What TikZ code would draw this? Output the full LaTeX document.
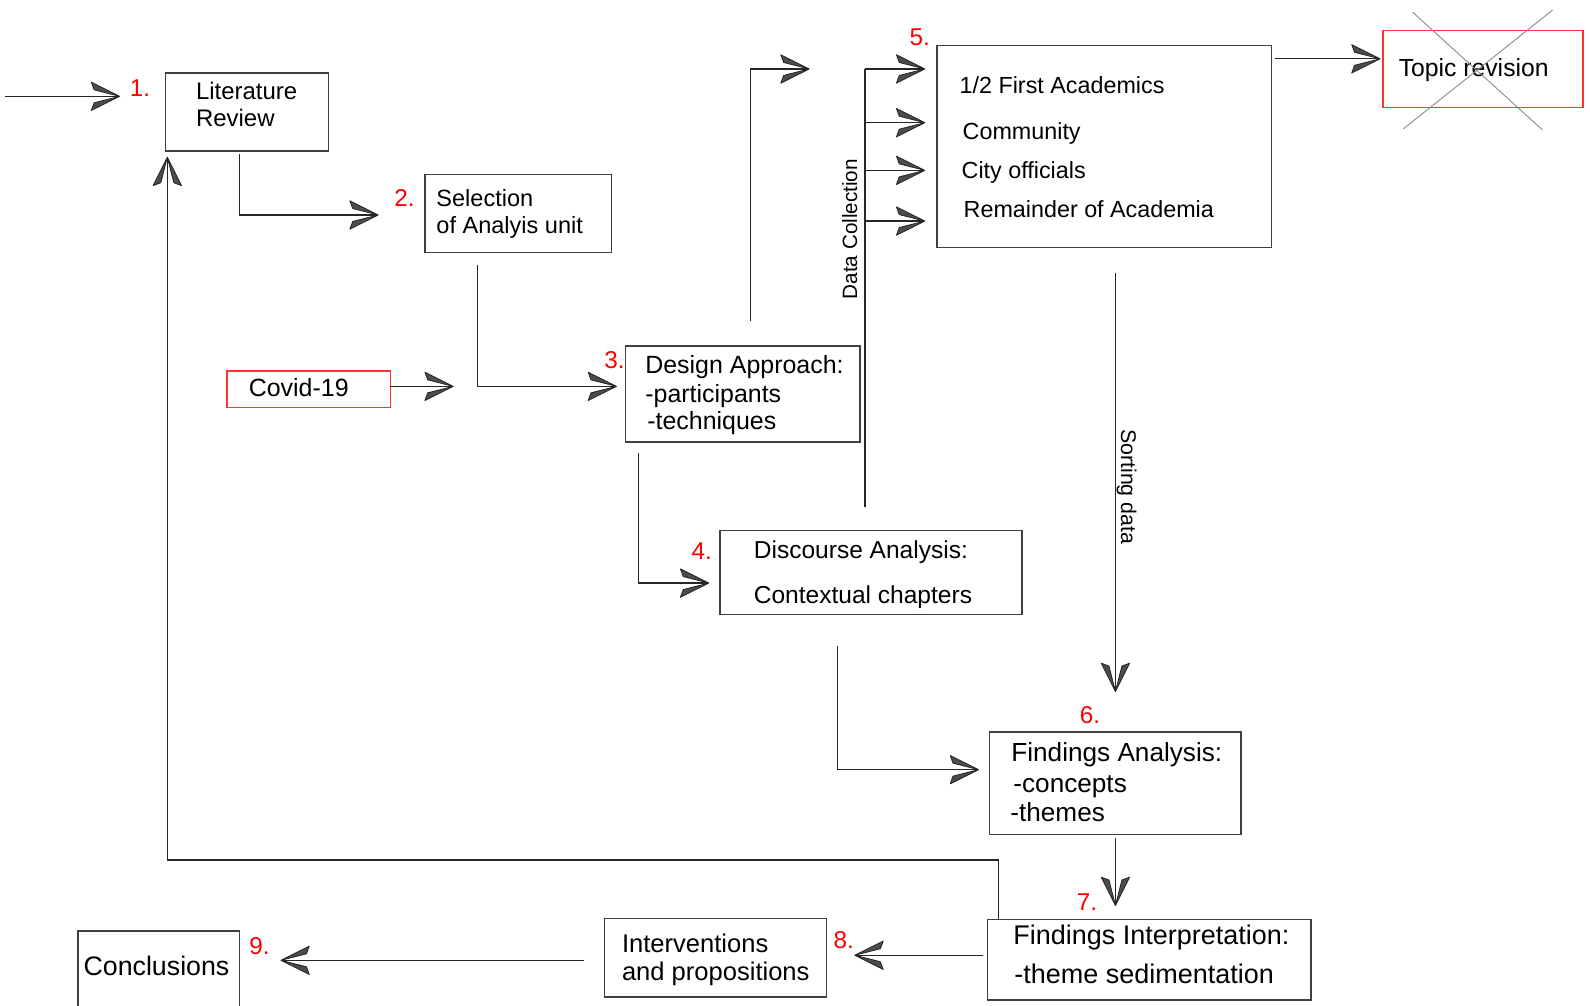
\documentclass[tikz,border=0pt]{standalone}
\usepackage{fontspec}
\setmainfont{Liberation Sans}
\usetikzlibrary{arrows.meta}
\pgfdeclarearrow{
  name = Vee2,
  setup code = {
    \pgfarrowssettipend{0pt}
    \pgfarrowssetlineend{-0.5pt}
    \pgfarrowssetbackend{-14pt}
    \pgfarrowshullpoint{0pt}{0pt}
    \pgfarrowsupperhullpoint{-14pt}{7pt}
  },
  drawing code = {
    \pgfsetlinewidth{0.4pt}
    \pgfsetroundjoin
    \pgfpathmoveto{\pgfpoint{0pt}{0pt}}
    \pgfpathlineto{\pgfpoint{-14pt}{7pt}}
    \pgfpathlineto{\pgfpoint{-12.6pt}{3.2pt}}
    \pgfpathclose
    \pgfpathmoveto{\pgfpoint{0pt}{0pt}}
    \pgfpathlineto{\pgfpoint{-14pt}{-7pt}}
    \pgfpathlineto{\pgfpoint{-12.6pt}{-3.2pt}}
    \pgfpathclose
    \pgfsetfillcolor{black!70}
    \pgfusepathqfillstroke
  }
}
\newcommand\fsz[1]{\fontsize{#1}{#1}\selectfont}
\tikzset{
  box/.style={draw=black!75, line width=0.7pt, rectangle, inner sep=0pt, outer sep=0pt, anchor=north west},
  redbox/.style={box, draw=red!80},
  conn/.style={line width=0.6pt, draw=black!85},
  arr/.style={conn, -{Vee2}},
  txt/.style={anchor=west, inner sep=0pt, text height=0.72em, text depth=0pt, yshift=-0.9pt},
  num/.style={text=red, inner sep=0pt, font=\fsz{12}},
  crossline/.style={draw=black!45, line width=0.45pt},
}
\begin{document}
\begin{tikzpicture}[x=0.5pt,y=-0.5pt]
\clip (0,0) rectangle (1568,992);
\fill[white] (0,0) rectangle (1568,992);

% boxes
\node[box, minimum width={161*0.5pt}, minimum height={77*0.5pt}] (lit) at (163,72) {};
\node[box, minimum width={184*0.5pt}, minimum height={77*0.5pt}] (sel) at (419,172) {};
\node[redbox, minimum width={161*0.5pt}, minimum height={36*0.5pt}] (cov) at (224,366) {};
\node[box, minimum width={231*0.5pt}, minimum height={95*0.5pt}] (des) at (617,341) {};
\node[box, minimum width={298*0.5pt}, minimum height={83*0.5pt}] (dis) at (710,523) {};
\node[box, minimum width={330*0.5pt}, minimum height={199*0.5pt}] (bfive) at (924,45) {};
\node[redbox, minimum width={197*0.5pt}, minimum height={76*0.5pt}] (top) at (1364,30) {};
\node[box, minimum width={248*0.5pt}, minimum height={101*0.5pt}] (fa) at (976,722) {};
\node[box, minimum width={319*0.5pt}, minimum height={79*0.5pt}] (fi) at (974,907) {};
\node[box, minimum width={219*0.5pt}, minimum height={77*0.5pt}] (int) at (596,906) {};
\node[box, minimum width={159*0.5pt}, minimum height={90*0.5pt}] (con) at (77,918) {};

% box texts
\node[txt, font=\fsz{11.8}] (lit1) at (193,89) {Literature};
\node[txt, font=\fsz{11.8}] (lit2) at (193,116) {Review};
\node[txt, font=\fsz{11.6}] (sel1) at (430,195) {Selection};
\node[txt, font=\fsz{11.6}] (sel2) at (430,221) {of Analyis unit};
\node[txt, font=\fsz{12.3}] (cov1) at (245,382) {Covid-19};
\node[txt, font=\fsz{12.3}] (des1) at (636,359) {Design Approach:};
\node[txt, font=\fsz{12.3}] (des2) at (636,388) {-participants};
\node[txt, font=\fsz{12.3}] (des3) at (638,415) {-techniques};
\node[txt, font=\fsz{12.1}] (dis1) at (743,542) {Discourse Analysis:};
\node[txt, font=\fsz{12.1}] (dis2) at (743,586) {Contextual chapters};
\node[txt, font=\fsz{11.5}] (bf1) at (946,83) {1/2 First Academics};
\node[txt, font=\fsz{11.5}] (bf2) at (949,129) {Community};
\node[txt, font=\fsz{11.5}] (bf3) at (948,167) {City officials};
\node[txt, font=\fsz{11.5}] (bf4) at (950,205) {Remainder of Academia};
\node[txt, font=\fsz{12.2}] (top1) at (1379,66) {Topic revision};
\node[txt, font=\fsz{12.9}] (fa1) at (997,742) {Findings Analysis:};
\node[txt, font=\fsz{12.9}] (fa2) at (999,773) {-concepts};
\node[txt, font=\fsz{12.9}] (fa3) at (996,801) {-themes};
\node[txt, font=\fsz{13.3}] (fi1) at (999,922) {Findings Interpretation:};
\node[txt, font=\fsz{13.3}] (fi2) at (1000,961) {-theme sedimentation};
\node[txt, font=\fsz{12.6}] (int1) at (613,930) {Interventions};
\node[txt, font=\fsz{12.6}] (int2) at (613,958) {and propositions};
\node[txt, font=\fsz{13.2}] (con1) at (82,953) {Conclusions};

% rotated labels
\node[rotate=90, inner sep=0pt, font=\fsz{10.2}] (dclab) at (838,226) {Data Collection};
\node[rotate=-90, inner sep=0pt, font=\fsz{10.5}] (sdlab) at (1111,480) {Sorting data};

% step numbers
\node[num] (n1) at (138,87) {1.};
\node[num] (n2) at (399,195) {2.};
\node[num] (n3) at (606,355) {3.};
\node[num] (n4) at (692,543) {4.};
\node[num] (n5) at (907,37) {5.};
\node[num] (n6) at (1075,705) {6.};
\node[num] (n7) at (1072,890) {7.};
\node[num] (n8) at (832,927) {8.};
\node[num] (n9) at (256,933) {9.};

% cross over Topic revision
\coordinate (xa1) at (1393,12);
\coordinate (xa2) at (1521,128);
\coordinate (xb1) at (1531,10);
\coordinate (xb2) at (1384,127);
\draw[crossline] (xa1) -- (xa2);
\draw[crossline] (xb1) -- (xb2);

% connector end points
\coordinate (in0) at (5,95);
\coordinate (in1) at (118,95);
\coordinate (ls0) at (236,152);
\coordinate (ls1) at (373,212);
\coordinate (sd0) at (471,261);
\coordinate (sd1) at (608,381);
\coordinate (cv0) at (385,381);
\coordinate (cv1) at (447,381);
\coordinate (dd0) at (630,447);
\coordinate (dd1) at (699,575);
\coordinate (du0) at (740,317);
\coordinate (du1) at (740,68);
\coordinate (du2) at (798,68);
\coordinate (dc0) at (853,500);
\coordinate (dc1) at (853,68);
\coordinate (dc2) at (853,121);
\coordinate (dc3) at (853,168);
\coordinate (dc4) at (853,218);
\coordinate (bt1) at (912,68);
\coordinate (bt2) at (912,121);
\coordinate (bt3) at (912,168);
\coordinate (bt4) at (912,218);
\coordinate (tp0) at (1257,58);
\coordinate (tp1) at (1361,58);
\coordinate (sr0) at (1100,269);
\coordinate (sr1) at (1100,682);
\coordinate (df0) at (826,637);
\coordinate (df1) at (965,759);
\coordinate (ff0) at (1100,826);
\coordinate (ff1) at (1100,893);
\coordinate (fb0) at (985,907);
\coordinate (fb1) at (985,848);
\coordinate (fb2) at (165,155);
\coordinate (fi0) at (969,942);
\coordinate (fi9) at (843,942);
\coordinate (ic0) at (576,947);
\coordinate (ic1) at (277,947);

% connectors
\draw[arr] (in0) -- (in1);
\draw[arr] (ls0) |- (ls1);
\draw[arr] (sd0) |- (sd1);
\draw[arr] (cv0) -- (cv1);
\draw[arr] (dd0) |- (dd1);
\draw[arr] (du0) -- (du1) -- (du2);
\draw[conn] (dc0) -- (dc1);
\draw[arr] (dc1) -- (bt1);
\draw[arr] (dc2) -- (bt2);
\draw[arr] (dc3) -- (bt3);
\draw[arr] (dc4) -- (bt4);
\draw[arr] (tp0) -- (tp1);
\draw[arr] (sr0) -- (sr1);
\draw[arr] (df0) |- (df1);
\draw[arr] (ff0) -- (ff1);
\draw[arr] (fb0) -- (fb1) -| (fb2);
\draw[arr] (fi0) -- (fi9);
\draw[arr] (ic0) -- (ic1);
\end{tikzpicture}
\end{document}
